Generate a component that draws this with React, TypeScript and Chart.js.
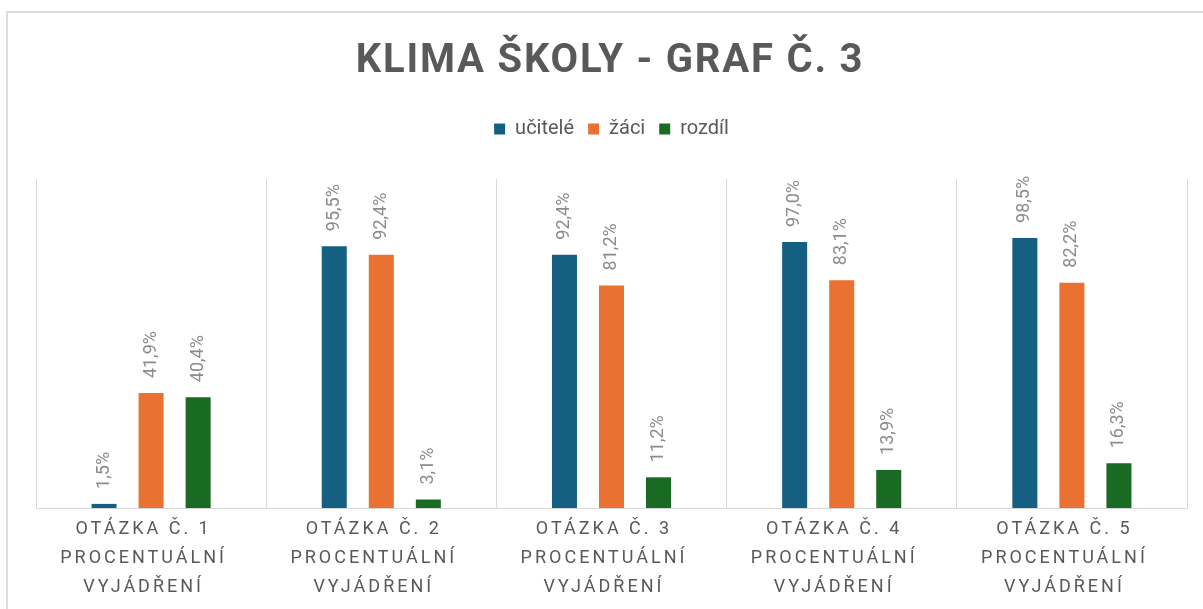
import React, { useEffect, useRef } from "react";
import { Chart, registerables } from "chart.js";

Chart.register(...registerables);

const TITLE = "KLIMA ŠKOLY - GRAF Č. 3";
const categories: string[][] = [
  ["OTÁZKA Č. 1", "PROCENTUÁLNÍ", "VYJÁDŘENÍ"],
  ["OTÁZKA Č. 2", "PROCENTUÁLNÍ", "VYJÁDŘENÍ"],
  ["OTÁZKA Č. 3", "PROCENTUÁLNÍ", "VYJÁDŘENÍ"],
  ["OTÁZKA Č. 4", "PROCENTUÁLNÍ", "VYJÁDŘENÍ"],
  ["OTÁZKA Č. 5", "PROCENTUÁLNÍ", "VYJÁDŘENÍ"],
];
const ucitele = [1.5, 95.5, 92.4, 97.0, 98.5];
const zaci = [41.9, 92.4, 81.2, 83.1, 82.2];
const rozdil = [40.4, 3.1, 11.2, 13.9, 16.3];

const COLORS = ["#156082", "#E97132", "#196B24"];
const TEXT = "#595959";
const GRID = "#d9d9d9";
const FONT = "Roboto, 'Open Sans', sans-serif";

const fmt = (v: number) => v.toFixed(1).replace(".", ",") + "%";

const customPlugin = {
  id: "customText",
  beforeLayout(chart: any) {
    const lg = chart.legend;
    if (lg && !lg.__patched) {
      const orig = lg.fit;
      lg.fit = function () {
        orig.call(this);
        this.height += 30;
      };
      lg.__patched = true;
    }
  },
  afterDraw(chart: any) {
    const ctx = chart.ctx as CanvasRenderingContext2D;
    const area = chart.chartArea;
    // title
    ctx.save();
    ctx.fillStyle = TEXT;
    ctx.font = `bold 40px ${FONT}`;
    (ctx as any).letterSpacing = "1.8px";
    ctx.textAlign = "center";
    ctx.textBaseline = "alphabetic";
    ctx.fillText(TITLE, 610, 72);
    ctx.restore();

    // x labels
    const xScale = chart.scales.x;
    ctx.save();
    ctx.fillStyle = TEXT;
    ctx.font = `18px ${FONT}`;
    (ctx as any).letterSpacing = "3px";
    ctx.textAlign = "center";
    ctx.textBaseline = "middle";
    categories.forEach((lines, i) => {
      const x = xScale.getPixelForValue(i) - 7.5;
      lines.forEach((line, j) => {
        ctx.fillText(line, x, area.bottom + 21.5 + j * 29);
      });
    });
    ctx.restore();

    // data labels
    ctx.save();
    ctx.fillStyle = "#8c8c8c";
    ctx.font = `18px ${FONT}`;
    ctx.textAlign = "left";
    ctx.textBaseline = "middle";
    chart.data.datasets.forEach((ds: any, di: number) => {
      const meta = chart.getDatasetMeta(di);
      meta.data.forEach((bar: any, i: number) => {
        ctx.save();
        ctx.translate(bar.x, bar.y - 15);
        ctx.rotate(-Math.PI / 2);
        ctx.fillText(fmt(ds.data[i]), 0, 0);
        ctx.restore();
      });
    });
    ctx.restore();
  },
};

export default function App() {
  const ref = useRef<HTMLCanvasElement | null>(null);
  useEffect(() => {
    if (!ref.current) return;
    const chart = new Chart(ref.current, {
      type: "bar",
      data: {
        labels: categories.map((c) => c.join(" ")),
        datasets: [
          { label: "učitelé", data: ucitele, backgroundColor: COLORS[0] },
          { label: "žáci", data: zaci, backgroundColor: COLORS[1] },
          { label: "rozdíl", data: rozdil, backgroundColor: COLORS[2] },
        ],
      },
      options: {
        responsive: false,
        animation: false,
        layout: { padding: { top: 105, left: 36, right: 16, bottom: 101 } },
        datasets: {
          bar: { categoryPercentage: 0.613, barPercentage: 0.532 },
        },
        scales: {
          x: {
            offset: true,
            grid: { display: true, offset: true, color: GRID, drawTicks: false, lineWidth: 1 },
            border: { display: true, color: GRID },
            ticks: { display: false },
          },
          y: { display: false, min: 0, max: 120 },
        },
        plugins: {
          title: { display: false },
          tooltip: { enabled: false },
          legend: {
            position: "top",
            labels: {
              boxWidth: 11,
              boxHeight: 11,
              padding: 14,
              color: TEXT,
              font: { size: 20, family: FONT },
            },
          },
        },
      },
      plugins: [customPlugin],
    });
    return () => chart.destroy();
  }, []);
  return (
    <div style={{ position: "fixed", left: 0, top: 0, width: 1203, height: 609, background: "#fff", overflow: "hidden" }}>
      <div
        style={{
          position: "absolute",
          left: 6,
          top: 11,
          width: 1300,
          height: 700,
          borderLeft: "2px solid #dcdcdc",
          borderTop: "2px solid #dcdcdc",
        }}
      />
      <canvas ref={ref} width={1203} height={609} style={{ position: "absolute", left: 0, top: 0 }} />
    </div>
  );
}
